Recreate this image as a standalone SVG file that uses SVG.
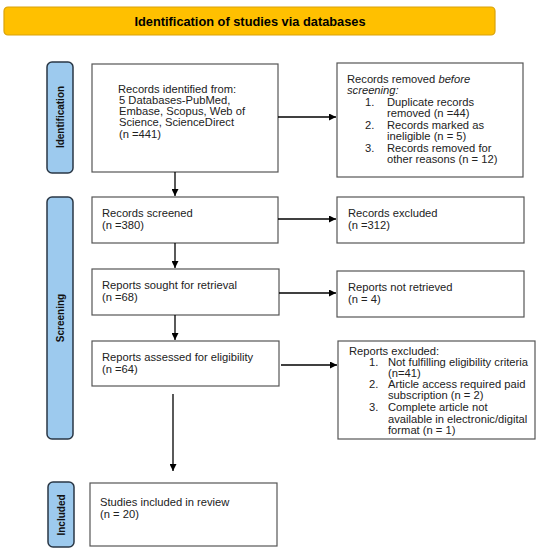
<svg xmlns="http://www.w3.org/2000/svg" width="550" height="554" viewBox="0 0 550 554">
<defs>
<marker id="ah" viewBox="0 0 10 10" refX="10" refY="5" markerWidth="7" markerHeight="7" markerUnits="userSpaceOnUse" orient="auto"><path d="M0,0 L10,5 L0,10 z" fill="#000"/></marker>
<style>
.box{fill:#fff;stroke:#555;stroke-width:1.2}
.side{fill:#9DCAEE;stroke:#2A3745;stroke-width:1.5}
.t{font-family:"Liberation Sans",Arial,sans-serif;font-size:11.2px;fill:#222}
.sl{font-family:"Liberation Sans",Arial,sans-serif;font-size:10px;font-weight:bold;fill:#111;text-anchor:middle}
.c{stroke:#000;stroke-width:1.3;fill:none;marker-end:url(#ah)}
</style>
</defs>
<rect width="550" height="554" fill="#fff"/>
<g id="header">
<rect x="4" y="7" width="491" height="28" rx="4" fill="#FFC000" stroke="#D9A20A" stroke-width="1.2"/>
<text x="250" y="26" font-family="'Liberation Sans',Arial,sans-serif" font-size="12.8" font-weight="bold" text-anchor="middle" fill="#000">Identification of studies via databases</text>
</g>
<g id="side-identification">
<rect class="side" x="47" y="62" width="26" height="111" rx="5"/>
<text class="sl" transform="translate(64,117) rotate(-90)">Identification</text>
</g>
<g id="side-screening">
<rect class="side" x="47" y="197" width="26" height="242" rx="5"/>
<text class="sl" transform="translate(64,318) rotate(-90)">Screening</text>
</g>
<g id="side-included">
<rect class="side" x="48" y="482" width="26" height="65" rx="5"/>
<text class="sl" transform="translate(65,515) rotate(-90)">Included</text>
</g>
<g id="records-identified">
<rect class="box" x="92" y="64" width="186" height="108"/>
<text class="t" x="118" y="93">Records identified from:</text>
<text class="t" x="119" y="104">5 Databases-PubMed,</text>
<text class="t" x="119" y="115">Embase, Scopus, Web of</text>
<text class="t" x="119" y="126">Science, ScienceDirect</text>
<text class="t" x="119" y="138">(n =441)</text>
</g>
<g id="records-removed">
<rect class="box" x="337" y="63" width="186" height="114"/>
<text class="t" x="347" y="83">Records removed <tspan font-style="italic">before</tspan></text>
<text class="t" x="347" y="94" font-style="italic">screening:</text>
<text class="t" x="365" y="106">1.</text>
<text class="t" x="387" y="106">Duplicate records</text>
<text class="t" x="387" y="117">removed (n =44)</text>
<text class="t" x="365" y="129">2.</text>
<text class="t" x="387" y="129">Records marked as</text>
<text class="t" x="387" y="140">ineligible (n = 5)</text>
<text class="t" x="365" y="152">3.</text>
<text class="t" x="387" y="152">Records removed for</text>
<text class="t" x="387" y="163">other reasons (n = 12)</text>
</g>
<g id="records-screened">
<rect class="box" x="92" y="197" width="186" height="46"/>
<text class="t" x="102" y="217">Records screened</text>
<text class="t" x="102" y="229">(n =380)</text>
</g>
<g id="records-excluded">
<rect class="box" x="337" y="197" width="187" height="46"/>
<text class="t" x="348" y="217">Records excluded</text>
<text class="t" x="348" y="229">(n =312)</text>
</g>
<g id="reports-sought">
<rect class="box" x="92" y="269" width="187" height="46"/>
<text class="t" x="102" y="289">Reports sought for retrieval</text>
<text class="t" x="102" y="301">(n =68)</text>
</g>
<g id="reports-not-retrieved">
<rect class="box" x="337" y="271" width="187" height="46"/>
<text class="t" x="348" y="291">Reports not retrieved</text>
<text class="t" x="348" y="303">(n = 4)</text>
</g>
<g id="reports-assessed">
<rect class="box" x="92" y="341" width="187" height="45"/>
<text class="t" x="102" y="361">Reports assessed for eligibility</text>
<text class="t" x="102" y="373">(n =64)</text>
</g>
<g id="reports-excluded">
<rect class="box" x="338" y="341" width="197" height="98"/>
<text class="t" x="349" y="355">Reports excluded:</text>
<text class="t" x="369" y="366">1.</text>
<text class="t" x="388" y="366">Not fulfilling eligibility criteria</text>
<text class="t" x="388" y="377">(n=41)</text>
<text class="t" x="369" y="388">2.</text>
<text class="t" x="388" y="388">Article access required paid</text>
<text class="t" x="388" y="399">subscription (n = 2)</text>
<text class="t" x="369" y="411">3.</text>
<text class="t" x="388" y="411">Complete article not</text>
<text class="t" x="388" y="423">available in electronic/digital</text>
<text class="t" x="388" y="434">format (n = 1)</text>
</g>
<g id="studies-included">
<rect class="box" x="90" y="483" width="187" height="63"/>
<text class="t" x="100" y="506">Studies included in review</text>
<text class="t" x="100" y="518">(n = 20)</text>
</g>
<g id="connectors">
<line class="c" x1="278" y1="117" x2="336" y2="117"/>
<line class="c" x1="175" y1="172" x2="175" y2="196"/>
<line class="c" x1="278" y1="219" x2="336" y2="219"/>
<line class="c" x1="175" y1="243" x2="175" y2="268"/>
<line class="c" x1="279" y1="293" x2="336" y2="293"/>
<line class="c" x1="175" y1="315" x2="175" y2="340"/>
<line class="c" x1="281" y1="365" x2="337" y2="365"/>
<line class="c" x1="173" y1="394" x2="173" y2="471"/>
</g>
</svg>
